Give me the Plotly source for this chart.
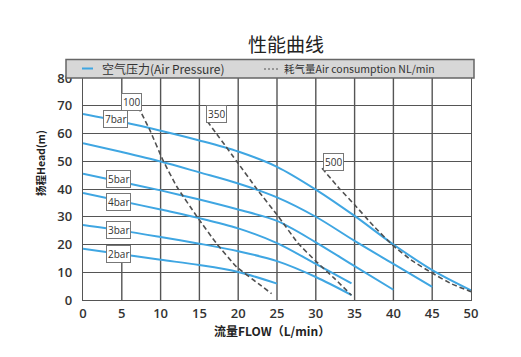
import plotly.graph_objects as go

# ---- data ----
flow_7bar = [0, 5, 10, 15, 20, 25, 30, 35, 40, 45, 50]
head_7bar = [67, 64.2, 61, 57.5, 53.5, 48, 39.8, 30.3, 20, 10.8, 3.5]
flow_6bar = [0, 5, 10, 15, 20, 25, 30, 35, 40, 45]
head_6bar = [56.5, 53.3, 49.9, 46, 42, 37, 30, 21.3, 13, 4.7]
flow_5bar = [0, 5, 10, 15, 20, 25, 30, 35, 40]
head_5bar = [45.5, 42.5, 39.5, 36.2, 32.6, 28.5, 20.8, 12.2, 3.7]
flow_4bar = [0, 5, 10, 15, 20, 25, 30, 34.6]
head_4bar = [38.6, 35.6, 32.6, 29.5, 25.8, 20.5, 13, 6]
flow_3bar = [0, 5, 10, 15, 20, 25, 30, 34.6]
head_3bar = [27, 25, 22.7, 20.3, 17.6, 14, 8.3, 1.8]
flow_2bar = [0, 5, 10, 15, 20, 25]
head_2bar = [18.5, 16.5, 14.5, 12.6, 10.1, 5.9]

air_100_flow = [7.1, 8.6, 10.3, 12.1, 14.7, 17.2, 19.8, 22.6, 24.3]
air_100_head = [69.7, 61.3, 50.4, 40.8, 30, 20.4, 11.9, 5.9, 2.3]
air_350_flow = [16, 19.8, 22.4, 25.2, 27.7, 30, 32.5, 34.6]
air_350_head = [64.5, 50, 40, 30, 20.5, 14, 7.5, 1.7]
air_500_flow = [30.8, 33, 35, 37.5, 40, 42.5, 45, 47.5, 50]
air_500_head = [47.5, 40.3, 34.3, 26.5, 19.5, 14, 9.7, 5.8, 3]

pressure_labels = ["7bar", "5bar", "4bar", "3bar", "2bar"]
pressure_label_pos = [(4.2, 65.1), (4.55, 43.5), (4.55, 35.4), (4.55, 25.3), (4.55, 16.6)]
air_labels = ["100", "350", "500"]
air_label_pos = [(6.3, 71.4), (17.2, 67.1), (32.3, 49.7)]

x_ticks = [0, 5, 10, 15, 20, 25, 30, 35, 40, 45, 50]
y_ticks = [0, 10, 20, 30, 40, 50, 60, 70, 80]

title_text = "性能曲线"
x_title = "流量FLOW（L/min）"
y_title = "扬程Head(m)"
legend_pressure = "空气压力(Air Pressure)"
legend_air = "耗气量Air consumption NL/min"

BLUE = "#3fa6e2"
GRID = "#555555"
DASH = "#505050"

fig = go.Figure()

pressure_curves = [
    (flow_7bar, head_7bar), (flow_6bar, head_6bar), (flow_5bar, head_5bar),
    (flow_4bar, head_4bar), (flow_3bar, head_3bar), (flow_2bar, head_2bar),
]
for fx, hy in pressure_curves:
    fig.add_trace(go.Scatter(x=fx, y=hy, mode="lines", name=legend_pressure,
                             line=dict(color=BLUE, width=2, shape="spline", smoothing=0.9),
                             showlegend=False, hoverinfo="skip"))

for fx, hy in [(air_100_flow, air_100_head), (air_350_flow, air_350_head), (air_500_flow, air_500_head)]:
    fig.add_trace(go.Scatter(x=fx, y=hy, mode="lines", name=legend_air,
                             line=dict(color=DASH, width=1.6, dash="5px,3px", shape="spline", smoothing=0.4),
                             showlegend=False, hoverinfo="skip"))

# page offset: the browser page keeps an 8px body margin
OFF = 8
W, H = 521 - OFF, 357 - OFF
L, T = 83.0, 78.0          # plot area top-left in reference pixels
PW, PH = 388.0, 222.0


def px(xp):
    return (xp - L) / PW


def py(yp):
    return (T + PH - yp) / PH


shapes = []
# vertical grid lines (x=5 is partly hidden in the reference)
for xv in x_ticks[2:-1]:
    shapes.append(dict(type="line", xref="x", yref="y", x0=xv, x1=xv, y0=0, y1=80,
                       line=dict(color=GRID, width=1.4), layer="below"))
shapes.append(dict(type="line", xref="x", yref="y", x0=5, x1=5, y0=0, y1=15,
                   line=dict(color=GRID, width=1.4), layer="below"))
shapes.append(dict(type="line", xref="x", yref="y", x0=5, x1=5, y0=74.5, y1=80,
                   line=dict(color=GRID, width=1.4), layer="below"))

# legend box
shapes.append(dict(type="rect", xref="paper", yref="paper", x0=px(66), x1=px(474), y0=py(78), y1=py(59.5),
                   fillcolor="#d7d7d7", line=dict(color="#666666", width=1.5), layer="above"))
shapes.append(dict(type="line", xref="paper", yref="paper", x0=px(82), x1=px(93), y0=py(68.5), y1=py(68.5),
                   line=dict(color=BLUE, width=2)))
shapes.append(dict(type="line", xref="paper", yref="paper", x0=px(264), x1=px(279), y0=py(69), y1=py(69),
                   line=dict(color="#555555", width=1, dash="2px,2px")))

annotations = []
for txt, (ax, ay) in zip(pressure_labels + air_labels, pressure_label_pos + air_label_pos):
    annotations.append(dict(x=ax, y=ay, xref="x", yref="y", text=txt, showarrow=False,
                            font=dict(family="Open Sans", size=10, color="#333333"),
                            bgcolor="white", bordercolor="#777777", borderwidth=1, borderpad=1))

annotations.append(dict(x=px(100), y=py(68.5), xref="paper", yref="paper", xanchor="left", yanchor="middle",
                        text=legend_pressure, showarrow=False,
                        font=dict(family="Noto Sans CJK SC", size=12, color="#333333")))
annotations.append(dict(x=px(282), y=py(69), xref="paper", yref="paper", xanchor="left", yanchor="middle",
                        text=legend_air, showarrow=False,
                        font=dict(family="Noto Sans CJK SC", size=10.5, color="#333333")))
annotations.append(dict(x=px(286), y=py(43.5), xref="paper", yref="paper", xanchor="center", yanchor="middle",
                        text=title_text, showarrow=False,
                        font=dict(family="Noto Sans CJK SC", size=19, color="#222222")))
annotations.append(dict(x=px(272), y=py(330), xref="paper", yref="paper", xanchor="center", yanchor="middle",
                        text="<b>" + x_title + "</b>", showarrow=False,
                        font=dict(family="Noto Sans CJK SC", size=12, color="#222222")))
annotations.append(dict(x=px(40), y=py(163), xref="paper", yref="paper", xanchor="center", yanchor="middle",
                        text="<b>" + y_title + "</b>", showarrow=False, textangle=-90,
                        font=dict(family="Noto Sans CJK SC", size=10.5, color="#222222")))

fig.update_layout(
    width=W, height=H,
    margin=dict(l=L - OFF, r=W - (L - OFF) - PW, t=T - OFF, b=H - (T - OFF) - PH, pad=0),
    paper_bgcolor="white", plot_bgcolor="white",
    showlegend=False,
    shapes=shapes, annotations=annotations,
    xaxis=dict(range=[0, 50], tickvals=x_ticks, showgrid=False, zeroline=False,
               showline=True, mirror=True, linecolor=GRID, linewidth=1.4,
               ticks="", ticklen=0, ticklabelstandoff=1,
               tickfont=dict(family="Open Sans", size=13, color="#333333", weight=600), fixedrange=True),
    yaxis=dict(range=[0, 80], tickvals=y_ticks, showgrid=True, gridcolor=GRID, gridwidth=1.4, zeroline=False,
               showline=True, mirror=True, linecolor=GRID, linewidth=1.4,
               ticks="", ticklen=0, ticklabelstandoff=7,
               tickfont=dict(family="Open Sans", size=13, color="#333333", weight=600), fixedrange=True),
)

fig.write_html("out.html")
